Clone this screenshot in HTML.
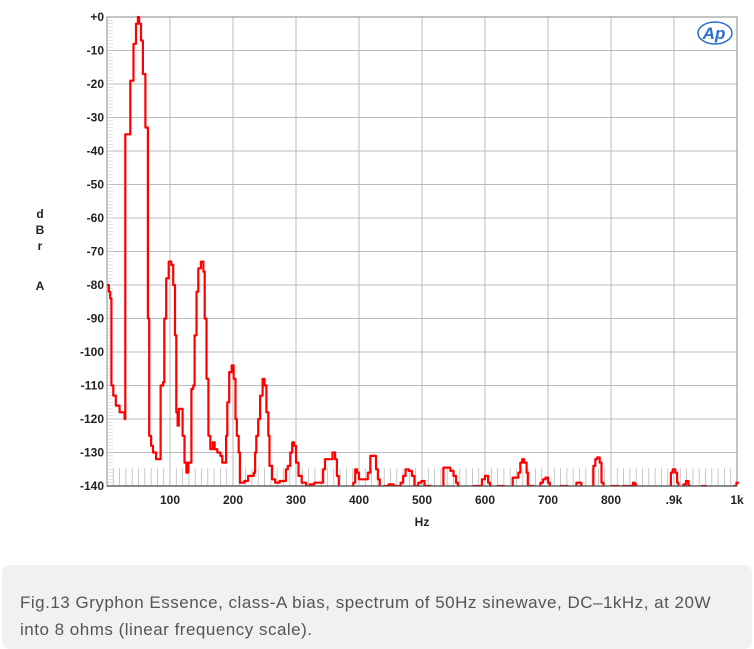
<!DOCTYPE html>
<html><head><meta charset="utf-8"><style>
body{margin:0;background:#fff;width:754px;height:649px;overflow:hidden;font-family:"Liberation Sans",Arial,sans-serif}
.cap{position:absolute;left:2px;top:565px;width:750px;height:84px;background:#f1f1f1;border-radius:8px;}
.cap p{margin:0;position:absolute;left:18px;top:24px;width:700px;font-size:17px;letter-spacing:0.5px;line-height:27px;color:#555}
</style></head><body>
<svg id="s" width="754" height="560" style="position:absolute;left:0;top:0" font-family="Liberation Sans, Arial, sans-serif">
<defs><clipPath id="c"><rect x="107" y="10" width="632" height="475.5"/></clipPath></defs>
<g id="grid"></g>
<g id="tr" clip-path="url(#c)"></g>
<g font-size="12" font-weight="bold" fill="#222" text-anchor="middle">
<text x="40" y="218">d</text><text x="40" y="234">B</text><text x="40" y="250">r</text><text x="40" y="290">A</text>
<text x="422" y="526">Hz</text>
</g>
<g transform="translate(715,33)">
<ellipse cx="0" cy="0" rx="17" ry="11" fill="none" stroke="#2a6fc9" stroke-width="1.5"/>
<text x="-1" y="6" font-size="17" font-style="italic" font-weight="bold" fill="#2a6fc9" text-anchor="middle">Ap</text>
</g>
</svg>
<div class="cap"><p>Fig.13 Gryphon Essence, class-A bias, spectrum of 50Hz sinewave, DC–1kHz, at 20W into 8 ohms (linear frequency scale).</p></div>
<script>
const X=f=>107+0.63*f, Y=d=>17+3.35*(-d);
let g='';
for(let i=1;i<14;i++){g+=`<line x1="107" x2="737" y1="${Y(-10*i)}" y2="${Y(-10*i)}" stroke="#bbb" stroke-width="1"/>`;}
for(let i=1;i<10;i++){g+=`<line y1="17" y2="486" x1="${X(100*i)}" x2="${X(100*i)}" stroke="#bbb" stroke-width="1"/>`;}
for(let f=10;f<1000;f+=10){g+=`<line y1="${Y(-134.7)}" y2="486" x1="${X(f)}" x2="${X(f)}" stroke="#bbb" stroke-width="0.8"/>`;}
for(let d=0;d<=140;d++){g+=`<line x1="108" x2="113" y1="${Y(-d)}" y2="${Y(-d)}" stroke="#ccc" stroke-width="0.6"/>`;}
g+=`<rect x="107" y="17" width="630" height="469" fill="none" stroke="#888" stroke-width="1"/>`;
g+=`<line x1="107" x2="737" y1="486" y2="486" stroke="#444" stroke-width="1.2"/>`;
for(let i=0;i<=14;i++){g+=`<text x="104" y="${Y(-10*i)+4}" font-size="12" font-weight="bold" fill="#222" text-anchor="end">${i?'-'+i*10:'+0'}</text>`;}
const xl=['100','200','300','400','500','600','700','800','.9k','1k'];
xl.forEach((t,i)=>{g+=`<text x="${X(100*(i+1))}" y="504" font-size="12" font-weight="bold" fill="#222" text-anchor="middle">${t}</text>`;});
document.getElementById('grid').innerHTML=g;
const P=[[0,-80],[3,-82],[5,-84],[7,-110],[10,-113],[14,-116],[20,-118],[28,-120],[29,-35],[36,-35],[37,-19],[41,-19],[42,-8],[45,-8],[46,-2],[48,-2],[49,0],[50,0],[51,-2],[53,-2],[54,-7],[56,-7],[57,-17],[60,-17],[61,-33],[63,-33],[65,-90],[67,-125],[70,-128],[73,-130],[78,-132],[84,-132],[85,-110],[89,-109],[91,-90],[94,-78],[98,-73],[102,-74],[105,-80],[108,-95],[110,-118],[112,-122],[114,-117],[117,-117],[120,-125],[123,-133],[126,-136],[129,-133],[133,-133],[134,-111],[137,-110],[139,-95],[142,-82],[145,-75],[149,-73],[153,-76],[155,-90],[158,-108],[161,-125],[164,-129],[168,-127],[171,-129],[175,-130],[180,-131],[183,-133],[188,-133],[189,-125],[191,-115],[194,-106],[198,-104],[201,-108],[204,-120],[206,-125],[209,-130],[211,-139],[218,-138.5],[224,-137],[230,-137],[233,-136],[235,-130],[237,-125],[240,-120],[243,-113],[247,-108],[250,-110],[253,-118],[256,-125],[258,-134],[262,-138],[267,-139],[274,-138.5],[281,-138.5],[284,-135],[287,-134],[291,-130],[294,-127],[297,-128],[300,-133],[304,-137],[309,-139],[316,-140],[322,-139.5],[329,-139],[338,-139],[343,-135],[346,-132],[352,-132],[358,-130],[362,-132],[365,-137],[368,-141],[388,-141],[391,-139],[394,-135],[397,-136],[400,-138],[410,-138],[414,-136],[418,-131],[424,-131],[427,-135],[430,-138],[433,-141],[440,-140],[447,-139.5],[455,-140],[462,-140],[466,-139],[470,-137],[474,-135],[479,-135.5],[484,-137],[488,-140],[494,-139],[499,-138.5],[504,-140],[510,-140],[514,-141],[532,-141],[534,-134.5],[541,-134.5],[545,-135.5],[550,-137],[554,-139],[557,-141],[580,-141],[582,-140],[590,-140],[595,-138],[600,-137],[605,-139],[608,-141],[619,-141],[620,-140],[628,-140],[630,-141],[642,-141],[644,-137.5],[651,-137.5],[653,-136],[656,-133],[659,-132],[662,-133],[666,-136],[668,-141],[670,-140],[675,-140],[677,-141],[686,-141],[688,-139],[692,-138],[696,-137.5],[700,-139],[703,-141],[718,-141],[720,-140],[729,-140],[731,-141],[742,-141],[745,-139],[750,-139],[753,-141],[770,-141],[772,-134],[775,-132],[778,-131.5],[782,-133],[785,-139],[788,-141],[800,-141],[801,-140],[810,-140],[812,-141],[818,-141],[819,-140],[832,-140],[835,-139],[838,-139.5],[840,-141],[893,-141],[895,-136],[898,-135],[902,-136],[905,-139],[907,-141],[913,-141],[915,-139.5],[919,-138.5],[923,-140],[926,-141],[943,-141],[944,-140],[950,-140],[951,-141],[993,-141],[995,-140],[999,-139],[1003,-139]];
let d='';
P.forEach(([f,db],i)=>{const x=X(f).toFixed(1),y=Y(db).toFixed(1);if(i==0)d+=`M${x},${y}`;else d+=`H${x}V${y}`;});
document.getElementById('tr').innerHTML=`<path d="${d}" fill="none" stroke="#f00" stroke-width="2.2" stroke-linejoin="round"/>`;
</script>
</body></html>
